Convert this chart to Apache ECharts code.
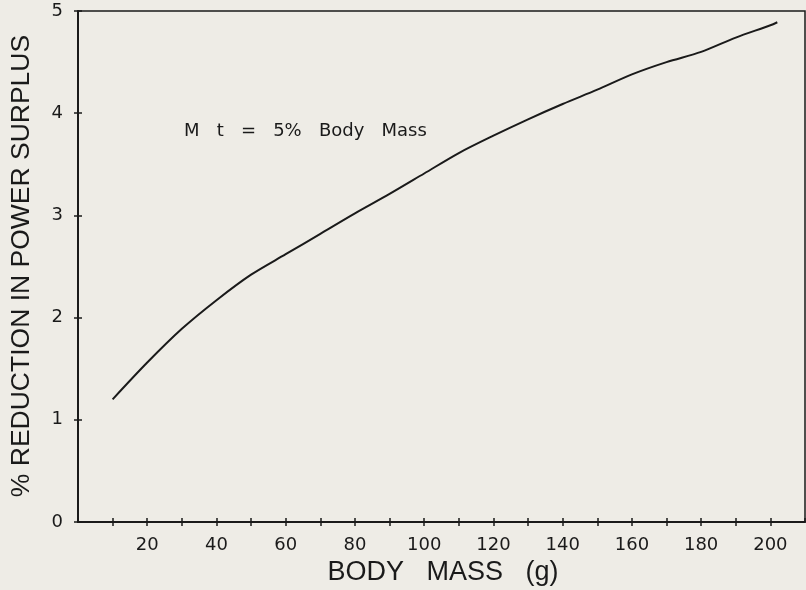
<!DOCTYPE html>
<html>
<head>
<meta charset="utf-8">
<script src="https://cdn.jsdelivr.net/npm/echarts@6/dist/echarts.min.js"></script>
<style>
html,body{margin:0;padding:0;background:#eeece6;}
#c{width:806px;height:590px;}
</style>
</head>
<body>
<div id="c"></div>
<script>
// Data
const bodyMass = [10, 20, 30, 40, 50, 60, 70, 80, 90, 100, 110, 120, 130, 140, 150, 160, 170, 180, 190, 200, 202];
const reduction = [1.20, 1.56, 1.89, 2.17, 2.42, 2.62, 2.82, 3.02, 3.21, 3.41, 3.61, 3.78, 3.94, 4.09, 4.23, 4.38, 4.50, 4.60, 4.74, 4.86, 4.89];
const xTickLabels = [20, 40, 60, 80, 100, 120, 140, 160, 180, 200];
const yTickLabels = [0, 1, 2, 3, 4, 5];
const xTitle = 'BODY   MASS   (g)';
const yTitle = '% REDUCTION IN POWER SURPLUS';
const note = 'M   t   =   5%   Body   Mass';

const ink = '#1a1a1a';
const chart = echarts.init(document.getElementById('c'), null, {renderer: 'canvas'});
const lbl = {color: ink, fontFamily: 'DejaVu Sans', fontSize: 18};
const baseX = {
  type: 'value', min: 0, max: 210, interval: 10, position: 'bottom', offset: 0,
  splitLine: {show: false}
};
const baseY = {
  type: 'value', min: 0, max: 5, interval: 1, position: 'left', offset: 0,
  splitLine: {show: false}
};
chart.setOption({
  backgroundColor: '#eeece6',
  animation: false,
  grid: {left: 78, top: 11, right: 1, bottom: 68, show: true, borderColor: ink, borderWidth: 1.5, containLabel: false},
  xAxis: [
    Object.assign({}, baseX, {
      axisLine: {show: true, lineStyle: {color: ink, width: 2}},
      axisTick: {show: true, inside: false, length: 4, lineStyle: {color: ink, width: 1.5}},
      axisLabel: Object.assign({}, lbl, {margin: 14, showMaxLabel: false, showMinLabel: false,
        formatter: v => xTickLabels.indexOf(v) >= 0 ? String(v) : ''})
    }),
    Object.assign({}, baseX, {
      axisLine: {show: true, lineStyle: {color: 'rgba(0,0,0,0)', width: 0}},
      axisTick: {show: true, inside: true, length: 4, lineStyle: {color: ink, width: 1.5}},
      axisLabel: {show: false}
    })
  ],
  yAxis: [
    Object.assign({}, baseY, {
      axisLine: {show: true, lineStyle: {color: ink, width: 2}},
      axisTick: {show: true, inside: false, length: 4, lineStyle: {color: ink, width: 1.5}},
      axisLabel: Object.assign({}, lbl, {margin: 15,
        formatter: v => yTickLabels.indexOf(v) >= 0 ? String(v) : ''})
    }),
    Object.assign({}, baseY, {
      axisLine: {show: true, lineStyle: {color: 'rgba(0,0,0,0)', width: 0}},
      axisTick: {show: true, inside: true, length: 4, lineStyle: {color: ink, width: 1.5}},
      axisLabel: {show: false}
    })
  ],
  series: [{
    type: 'line',
    xAxisIndex: 0, yAxisIndex: 0,
    data: bodyMass.map((x, i) => [x, reduction[i]]),
    smooth: 0.3,
    showSymbol: false,
    lineStyle: {color: ink, width: 2}
  }],
  graphic: [
    {type: 'text', x: 443, y: 573, style: {text: xTitle, fill: ink, font: '300 27px "Liberation Sans", sans-serif', align: 'center', verticalAlign: 'middle'}},
    {type: 'text', x: 22, y: 266, rotation: Math.PI / 2, style: {text: yTitle, fill: ink, font: '300 26.5px "Liberation Sans", sans-serif', align: 'center', verticalAlign: 'middle'}},
    {type: 'text', x: 184, y: 131, style: {text: note, fill: ink, font: '18px "DejaVu Sans", sans-serif', align: 'left', verticalAlign: 'middle'}}
  ]
});
</script>
</body>
</html>
